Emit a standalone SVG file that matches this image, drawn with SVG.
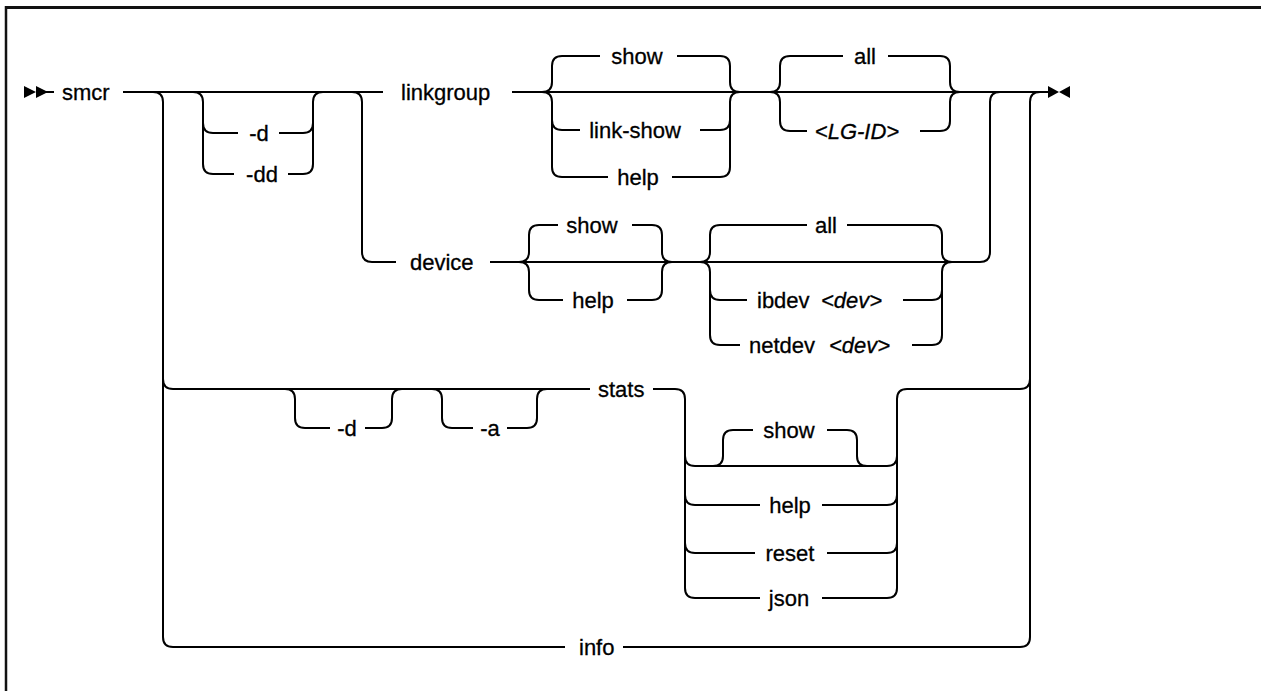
<svg xmlns="http://www.w3.org/2000/svg" width="1261" height="691" viewBox="0 0 1261 691">
<style>
.ln{fill:none;stroke:#000;stroke-width:2;stroke-linejoin:round}
.t{font-family:"Liberation Sans",Arial,sans-serif;font-size:22px;fill:#000;stroke:#000;stroke-width:0.3}
.m{text-anchor:middle}
.i{font-style:italic}
.mk{fill:#000}
</style>
<rect width="1261" height="691" fill="#fff"/>
<g id="frame">
<line x1="6" y1="7.5" x2="1261" y2="7.5" stroke="#111" stroke-width="3"/>
<line x1="6" y1="6" x2="6" y2="691" stroke="#111" stroke-width="2.5"/>
</g>
<g id="connectors">
<polygon class="mk" points="24,86 36,92 24,98"/>
<polygon class="mk" points="36,86 48,92 36,98"/>
<path class="ln" d="M46,92 H54"/>
<path class="ln" d="M123,92 H383"/>
<path class="ln" d="M512,92 H1048"/>
<polygon class="mk" points="1048,86 1059,92 1048,98"/>
<polygon class="mk" points="1070,86 1059,92 1070,98"/>
<!-- big branch -->
<path class="ln" d="M153,92 Q163,92 163,102 V637 Q163,647 173,647 H565"/>
<path class="ln" d="M163,379 Q163,389 173,389 H590"/>
<path class="ln" d="M623,647 H1020 Q1030,647 1030,637 V102 Q1030,92 1040,92"/>
<!-- -d / -dd -->
<path class="ln" d="M193,92 Q203,92 203,102 V164 Q203,174 213,174 H234"/>
<path class="ln" d="M203,123 Q203,133 213,133 H238"/>
<path class="ln" d="M279,133 H303 Q313,133 313,123"/>
<path class="ln" d="M288,174 H303 Q313,174 313,164 V102 Q313,92 323,92"/>
<!-- linkgroup / device -->
<path class="ln" d="M352,92 Q362,92 362,102 V252 Q362,262 372,262 H396"/>
<path class="ln" d="M490,262 H980 Q990,262 990,252 V102 Q990,92 1000,92"/>
<!-- linkgroup choice -->
<path class="ln" d="M600,56 H562 Q552,56 552,66 V82 Q552,92 542,92"/>
<path class="ln" d="M542,92 Q552,92 552,102 V167 Q552,177 562,177 H608"/>
<path class="ln" d="M552,120 Q552,130 562,130 H580"/>
<path class="ln" d="M677,56 H720 Q730,56 730,66 V82 Q730,92 740,92"/>
<path class="ln" d="M700,130 H720 Q730,130 730,120"/>
<path class="ln" d="M672,177 H720 Q730,177 730,167 V102 Q730,92 740,92"/>
<!-- all / LG-ID -->
<path class="ln" d="M843,56 H790 Q780,56 780,66 V82 Q780,92 770,92"/>
<path class="ln" d="M770,92 Q780,92 780,102 V121 Q780,131 790,131 H807"/>
<path class="ln" d="M888,56 H940 Q950,56 950,66 V82 Q950,92 960,92"/>
<path class="ln" d="M920,131 H940 Q950,131 950,121 V102 Q950,92 960,92"/>
<!-- device choice -->
<path class="ln" d="M558,225 H539 Q529,225 529,235 V252 Q529,262 519,262"/>
<path class="ln" d="M519,262 Q529,262 529,272 V290 Q529,300 539,300 H563"/>
<path class="ln" d="M632,225 H652 Q662,225 662,235 V252 Q662,262 672,262"/>
<path class="ln" d="M627,300 H652 Q662,300 662,290 V272 Q662,262 672,262"/>
<!-- device all choice -->
<path class="ln" d="M807,225 H720 Q710,225 710,235 V252 Q710,262 700,262"/>
<path class="ln" d="M700,262 Q710,262 710,272 V335 Q710,345 720,345 H740"/>
<path class="ln" d="M710,290 Q710,300 720,300 H747"/>
<path class="ln" d="M847,225 H932 Q942,225 942,235 V252 Q942,262 952,262"/>
<path class="ln" d="M903,300 H932 Q942,300 942,290"/>
<path class="ln" d="M912,345 H932 Q942,345 942,335 V272 Q942,262 952,262"/>
<!-- stats optional -d, -a -->
<path class="ln" d="M285,389 Q295,389 295,399 V418 Q295,428 305,428 H330"/>
<path class="ln" d="M365,428 H382 Q392,428 392,418 V399 Q392,389 402,389"/>
<path class="ln" d="M432,389 Q442,389 442,399 V418 Q442,428 452,428 H473"/>
<path class="ln" d="M507,428 H527 Q537,428 537,418 V399 Q537,389 547,389"/>
<!-- stats choice -->
<path class="ln" d="M653,389 H675 Q685,389 685,399 V588 Q685,598 695,598 H760"/>
<path class="ln" d="M685,456 Q685,466 695,466 H887 Q897,466 897,456"/>
<path class="ln" d="M685,495 Q685,505 695,505 H760"/>
<path class="ln" d="M822,505 H887 Q897,505 897,495"/>
<path class="ln" d="M685,543 Q685,553 695,553 H755"/>
<path class="ln" d="M827,553 H887 Q897,553 897,543"/>
<path class="ln" d="M822,598 H887 Q897,598 897,588 V399 Q897,389 907,389 H1020 Q1030,389 1030,379"/>
<path class="ln" d="M713,466 Q723,466 723,456 V440 Q723,430 733,430 H753"/>
<path class="ln" d="M827,430 H847 Q857,430 857,440 V456 Q857,466 867,466"/>
</g>
<g id="n-smcr"><text class="t" x="62" y="100">smcr</text></g>
<g id="n-d1"><text class="t m" x="259" y="141">-d</text></g>
<g id="n-dd"><text class="t m" x="262" y="182">-dd</text></g>
<g id="n-linkgroup"><text class="t" x="401" y="100">linkgroup</text></g>
<g id="n-lg-show"><text class="t m" x="637" y="64">show</text></g>
<g id="n-lg-linkshow"><text class="t m" x="635" y="138">link-show</text></g>
<g id="n-lg-help"><text class="t m" x="638" y="185">help</text></g>
<g id="n-lg-all"><text class="t m" x="865" y="64">all</text></g>
<g id="n-lgid"><text class="t m i" x="857" y="139">&lt;LG-ID&gt;</text></g>
<g id="n-device"><text class="t" x="410" y="270">device</text></g>
<g id="n-dev-show"><text class="t m" x="592" y="233">show</text></g>
<g id="n-dev-help"><text class="t m" x="593" y="308">help</text></g>
<g id="n-dev-all"><text class="t m" x="826" y="233">all</text></g>
<g id="n-ibdev"><text class="t" x="757" y="308">ibdev</text><text class="t i" x="821" y="308">&lt;dev&gt;</text></g>
<g id="n-netdev"><text class="t" x="749" y="353">netdev</text><text class="t i" x="829" y="353">&lt;dev&gt;</text></g>
<g id="n-st-d"><text class="t m" x="347" y="436">-d</text></g>
<g id="n-st-a"><text class="t m" x="490" y="436">-a</text></g>
<g id="n-stats"><text class="t" x="598" y="397">stats</text></g>
<g id="n-st-show"><text class="t m" x="789" y="438">show</text></g>
<g id="n-st-help"><text class="t m" x="790" y="513">help</text></g>
<g id="n-st-reset"><text class="t m" x="790" y="561">reset</text></g>
<g id="n-st-json"><text class="t m" x="789" y="606">json</text></g>
<g id="n-info"><text class="t" x="579" y="655">info</text></g>
</svg>
